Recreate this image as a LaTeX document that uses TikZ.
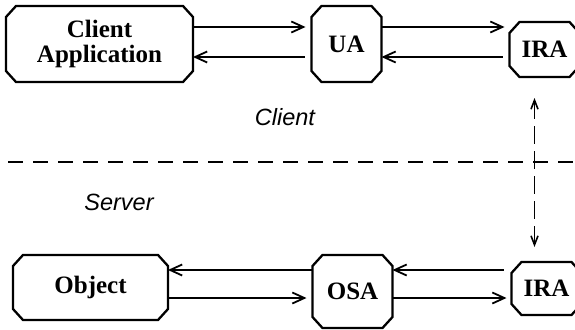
\documentclass[tikz,border=0pt]{standalone}
\usepackage{fontspec}
\setmainfont{Liberation Serif}
\setsansfont{Liberation Sans}
\usetikzlibrary{arrows.meta}
\tikzstyle{arrow} = [line width=1.8pt,-{Straight Barb[length=12pt,width=11pt]}]
\tikzstyle{dashArrow} = [line width=1.6pt,dash pattern=on 18pt off 7pt,{Straight Barb[length=9pt,width=7pt]}-{Straight Barb[length=9pt,width=7pt]}]
\tikzstyle{octRec} = [rectangle, outer sep=0pt, inner sep=0pt, align=center, font=\fontsize{25}{25.5}\selectfont\bfseries]
\tikzstyle{octLine} = [line width=2.3pt, line join=miter]
% cut-corner frame round a named node
\newcommand{\octFrame}[1]{%
	\draw [octLine] ([xshift=10pt]#1.north west) -- ([xshift=-10pt]#1.north east) -- ([yshift=-11pt]#1.north east)
		-- ([yshift=11pt]#1.south east) -- ([xshift=-10pt]#1.south east) -- ([xshift=10pt]#1.south west)
		-- ([yshift=11pt]#1.south west) -- ([yshift=-11pt]#1.north west) -- cycle;}

\begin{document}
\begin{tikzpicture}[x=1pt, y=-1pt, node distance=243.5pt]
		\useasboundingbox (0,0) rectangle (575,329);
		\clip (0,0) rectangle (575,329);
		% client side
		\node (capp) [octRec, minimum width=187pt, minimum height=76pt] at (99.5,44) {Client\\Application};
		\node (ua) [octRec, minimum width=70pt, minimum height=76pt, right of=capp, xshift=3.5pt] {UA};
		\node (iraTop) [octRec, minimum width=70pt, minimum height=55pt, right of=ua, xshift=-45.5pt, yshift=-5.5pt] {IRA};
		% server side
		\node (obj) [octRec, minimum width=155pt, minimum height=65pt, below of=capp, xshift=-9pt] {Object};
		\node (osa) [octRec, minimum width=80pt, minimum height=73pt, below of=ua, xshift=6pt, yshift=-4pt] {OSA};
		\node (iraBot) [octRec, minimum width=70pt, minimum height=53pt, below of=iraTop, xshift=2pt, yshift=4.5pt] {IRA};
		\octFrame{capp} \octFrame{ua} \octFrame{iraTop}
		\octFrame{obj} \octFrame{osa} \octFrame{iraBot}
		\node (client) [anchor=base, font=\fontsize{23.5}{26}\selectfont\sffamily\itshape] at (285,125) {Client};
		\node (server) [anchor=base, font=\fontsize{23.5}{26}\selectfont\sffamily\itshape] at (119,210) {Server};
		% divider
		\coordinate (divL) at (8,162);
		\coordinate (divR) at (580,162);
		\draw [line width=1.6pt, dash pattern=on 15pt off 10pt] (divL) -- (divR);
		\draw [arrow, shorten >=6pt] ([yshift=17pt]capp.east) -- ([yshift=17pt]capp.east -| ua.west);
		\draw [arrow, shorten <=7pt] ([yshift=-13pt]capp.east -| ua.west) -- ([yshift=-13pt]capp.east);
		\draw [arrow, shorten >=5pt] ([yshift=17pt]capp.east -| ua.east) -- ([yshift=17pt]capp.east -| iraTop.west);
		\draw [arrow, shorten <=7pt] ([yshift=-13pt]capp.east -| iraTop.west) -- ([yshift=-13pt]capp.east -| ua.east);
		\draw [arrow] ([yshift=17.5pt]obj.east -| osa.west) -- ([yshift=17.5pt]obj.east);
		\draw [arrow, shorten >=6pt] ([yshift=-10.5pt]obj.east) -- ([yshift=-10.5pt]obj.east -| osa.west);
		\draw [arrow, shorten <=8pt] ([yshift=17.5pt]obj.east -| iraBot.west) -- ([yshift=17.5pt]obj.east -| osa.east);
		\draw [arrow, shorten >=5pt] ([yshift=-10.5pt]obj.east -| osa.east) -- ([yshift=-10.5pt]obj.east -| iraBot.west);
		\draw [dashArrow] ([xshift=-10pt,yshift=-21pt]iraTop.south) -- ([xshift=-12pt,yshift=15pt]iraBot.north);
	\end{tikzpicture}
\end{document}
